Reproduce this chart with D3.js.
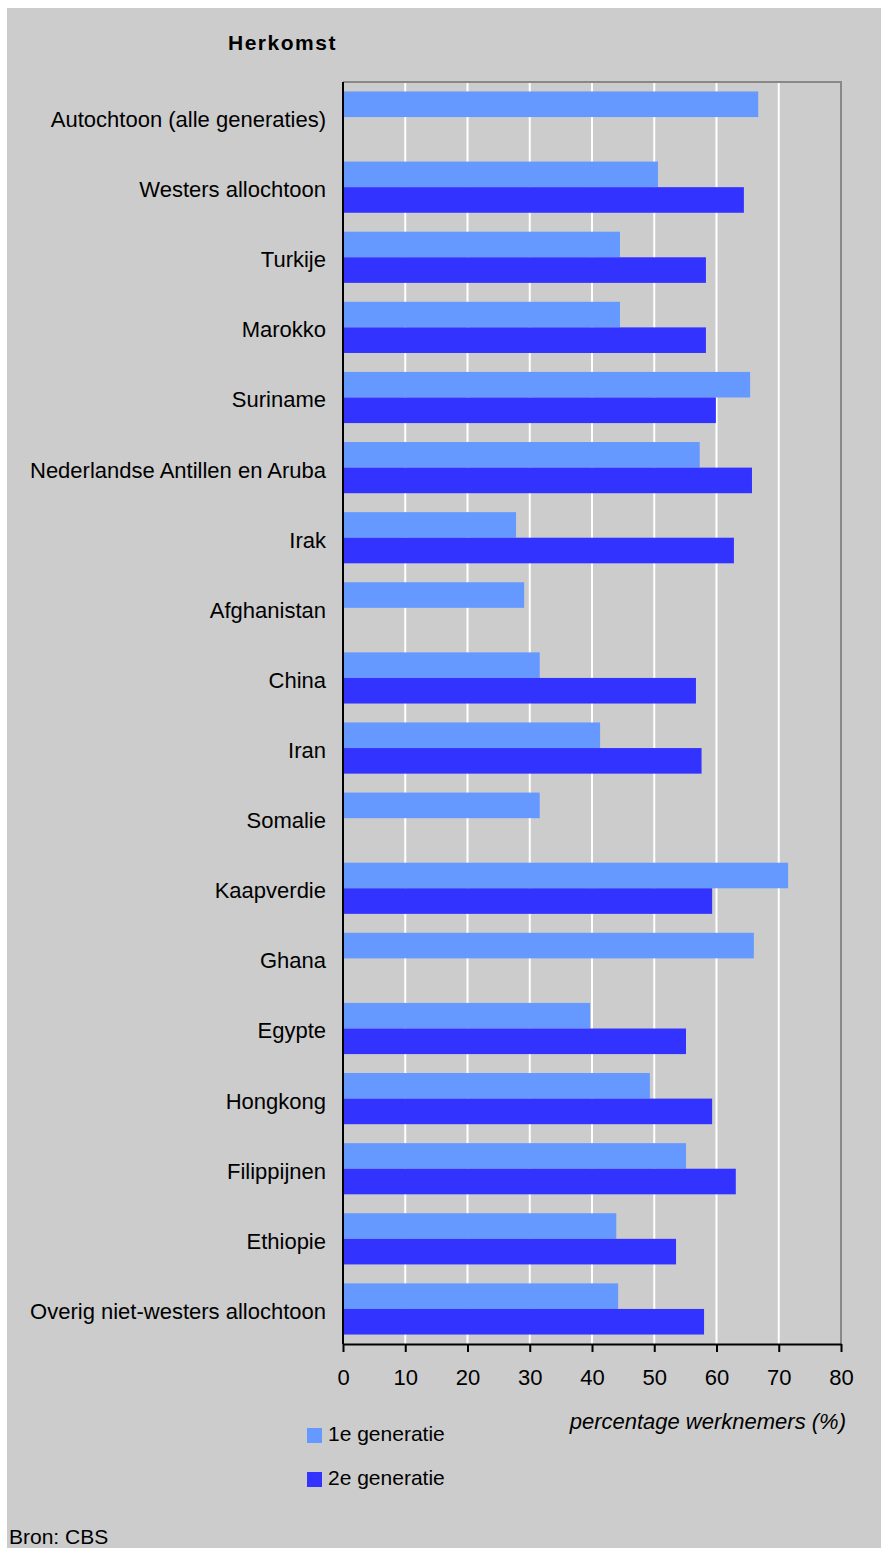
<!DOCTYPE html>
<html>
<head>
<meta charset="utf-8">
<script src="https://cdn.jsdelivr.net/npm/d3@7"></script>
<style>
  body { margin: 0; background: #fff; }
  text { font-family: "Liberation Sans", Arial, sans-serif; fill: #000; }
</style>
</head>
<body>
<svg class="chart"></svg>
<script>
var categories = ["Autochtoon (alle generaties)", "Westers allochtoon", "Turkije", "Marokko", "Suriname",
  "Nederlandse Antillen en Aruba", "Irak", "Afghanistan", "China", "Iran", "Somalie", "Kaapverdie",
  "Ghana", "Egypte", "Hongkong", "Filippijnen", "Ethiopie", "Overig niet-westers allochtoon"];
var series = ["1e generatie", "2e generatie"];
var gen1 = [66.7, 50.6, 44.5, 44.5, 65.4, 57.3, 27.8, 29.1, 31.6, 41.3, 31.6, 71.5, 66.0, 39.7, 49.3, 55.1, 43.9, 44.2];
var gen2 = [null, 64.4, 58.3, 58.3, 59.9, 65.7, 62.8, null, 56.7, 57.6, null, 59.3, null, 55.1, 59.3, 63.1, 53.5, 58.0];
var xTicks = [0, 10, 20, 30, 40, 50, 60, 70, 80];
var colors = ["#6699ff", "#3333ff"];

var W = 881, H = 1548;
var margin = {left: 343, right: 841, top: 82, bottom: 1344};

var svg = d3.select(".chart").attr("width", W).attr("height", H);

svg.append("rect").attr("x", 7).attr("y", 8).attr("width", W - 7).attr("height", H - 8).attr("fill", "#cccccc");

var x = d3.scaleLinear().domain([0, 80]).range([margin.left, margin.right]);
var y = d3.scaleBand().domain(categories).range([margin.top, margin.bottom]).paddingInner(0.27).paddingOuter(0.135);
var y1 = d3.scaleBand().domain(series).range([0, y.bandwidth()]);

// gridlines
svg.append("g").selectAll("line")
  .data(xTicks.filter(function(d) { return d > 0 && d < 80; }))
  .enter().append("line")
  .attr("x1", function(d) { return x(d); }).attr("x2", function(d) { return x(d); })
  .attr("y1", margin.top).attr("y2", margin.bottom)
  .attr("stroke", "#fff").attr("stroke-width", 2);

// frame top + right
svg.append("path")
  .attr("d", "M" + margin.left + "," + margin.top + "H" + margin.right + "V" + margin.bottom)
  .attr("fill", "none").attr("stroke", "#888").attr("stroke-width", 2);

var rows = categories.map(function(c, i) { return {cat: c, vals: [gen1[i], gen2[i]]}; });

var group = svg.append("g").selectAll("g").data(rows).enter().append("g")
  .attr("transform", function(d) { return "translate(0," + y(d.cat) + ")"; });

group.selectAll("rect")
  .data(function(d) { return d.vals.map(function(v, k) { return {s: series[k], v: v, k: k}; }).filter(function(e) { return e.v != null; }); })
  .enter().append("rect")
  .attr("x", x(0))
  .attr("y", function(d) { return y1(d.s); })
  .attr("height", y1.bandwidth())
  .attr("width", function(d) { return x(d.v) - x(0); })
  .attr("fill", function(d) { return colors[d.k]; });

// category labels
svg.append("g").selectAll("text").data(categories).enter().append("text")
  .attr("x", 326)
  .attr("y", function(d) { return y(d) + y.bandwidth() / 2; })
  .attr("dy", "0.45em")
  .attr("text-anchor", "end")
  .style("font-size", "22px")
  .text(function(d) { return d; });

// left axis
svg.append("line").attr("x1", margin.left).attr("x2", margin.left).attr("y1", margin.top).attr("y2", margin.bottom)
  .attr("stroke", "#000").attr("stroke-width", 2);

// bottom axis
var xAxis = svg.append("g")
  .attr("transform", "translate(0," + margin.bottom + ")")
  .call(d3.axisBottom(x).tickValues(xTicks).tickSize(8).tickPadding(17).tickSizeOuter(0));
xAxis.select(".domain").attr("stroke", "#000").attr("stroke-width", 2);
xAxis.selectAll(".tick line").attr("stroke", "#000").attr("stroke-width", 2);
xAxis.selectAll(".tick text").style("font-size", "22px").style("font-family", "Liberation Sans, Arial, sans-serif").attr("fill", "#000");

svg.append("text").attr("x", 846).attr("y", 1429).attr("text-anchor", "end")
  .style("font-size", "22px").style("font-style", "italic")
  .text("percentage werknemers (%)");

svg.append("text").attr("x", 228).attr("y", 50)
  .style("font-size", "21px").style("font-weight", "bold").style("letter-spacing", "1.5px")
  .text("Herkomst");

// legend
var legend = svg.append("g").selectAll("g").data(series).enter().append("g")
  .attr("transform", function(d, i) { return "translate(307," + (1428 + i * 44) + ")"; });
legend.append("rect").attr("width", 15).attr("height", 15)
  .attr("fill", function(d, i) { return colors[i]; });
legend.append("text").attr("x", 21).attr("y", 13).style("font-size", "21px")
  .text(function(d) { return d; });

svg.append("text").attr("x", 9).attr("y", 1544).style("font-size", "21px").text("Bron: CBS");
</script>
</body>
</html>
